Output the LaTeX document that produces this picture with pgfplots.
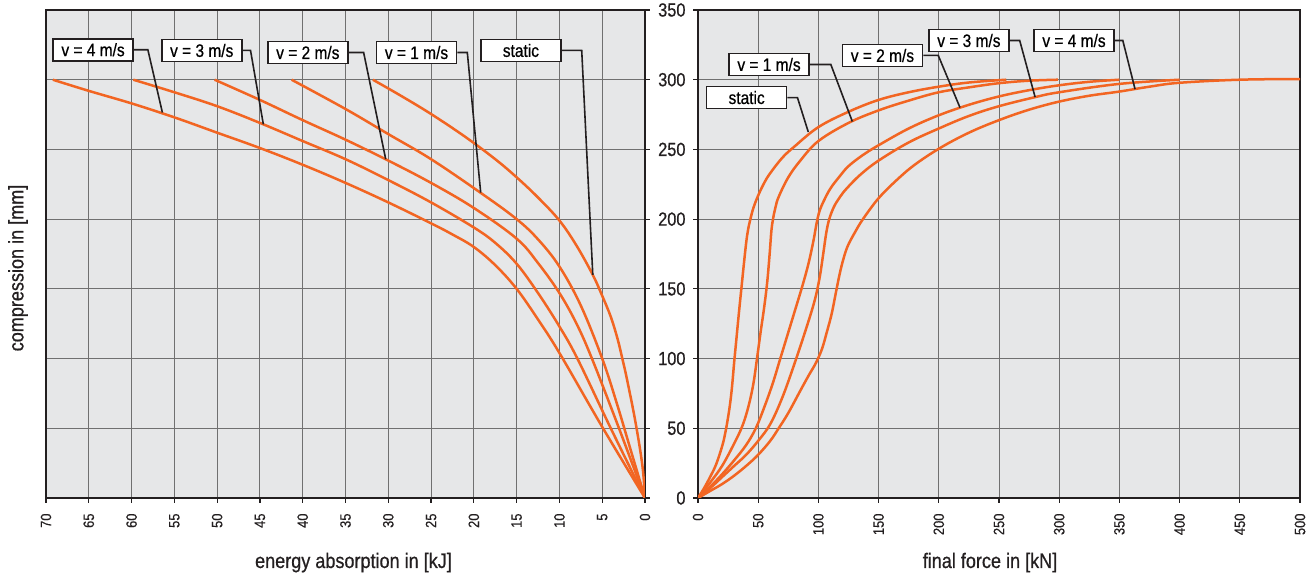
\documentclass[border=0pt]{standalone}
\usepackage{fontspec}
\setmainfont{Liberation Sans}[FakeStretch=0.86, FakeBold=0.6]
\newfontfamily\lightfont{Liberation Sans}[FakeStretch=0.86, FakeBold=0.2]
\usepackage{pgfplots}
\pgfplotsset{compat=1.18}
\definecolor{bg}{RGB}{230,231,232}
\definecolor{gridc}{RGB}{112,112,112}
\definecolor{curve}{RGB}{242,101,34}
\definecolor{frame}{RGB}{35,31,32}
\tikzset{
  box/.style={draw=frame, line width=1.6pt, fill=white, minimum width=80pt, minimum height=22pt, inner sep=0pt, font=\fontsize{18}{18}\selectfont},
  ptr/.style={draw=frame, line width=1.6pt},
  mycurve/.style={draw=curve, line width=2.5pt, smooth, tension=0.6, mark=none},
}
\pgfplotsset{
  common/.style={
    scale only axis, height=488pt,
    axis background/.style={fill=bg},
    grid=major, major grid style={gridc, line width=0.9pt},
    axis line style={frame, line width=2.6pt},
    ymin=0, ymax=350, ytick={0,50,...,350},
    tick align=outside, major tick length=5pt,
    tick style={frame, line width=1.2pt},
    xtick pos=left,
    /pgf/number format/assume math mode=true,
    xticklabel style={rotate=90, anchor=east, font=\lightfont\fontsize{15}{15}\selectfont, text=frame},
    xticklabel shift=7pt,
    yticklabel style={font=\fontsize{19}{19}\selectfont, text=frame},
  },
}
\begin{document}
\begin{tikzpicture}[x=1pt,y=1pt]
\useasboundingbox (0,0) rectangle (1315,577);
% ---------------- left axis: energy absorption ----------------
\begin{axis}[common, at={(46pt,79pt)}, anchor=south west, width=599pt,
  x dir=reverse, xmin=0, xmax=70, xtick={0,5,...,70},
  ytick pos=right, yticklabels={}]
% static
\addplot[mycurve] coordinates {(0,0)(0.3,23)(1.1,54)(2.1,85)(2.65,100)(3.2,114)(4,130)(5,145)(6.1,160)(8,181)(10,199)(12.5,215.5)(15,230)(17.5,243)(21,259)(25,275.4)(28.5,288.4)(31.8,300)};
% v = 1
\addplot[mycurve] coordinates {(0,0)(1.7,35)(3.3,68)(5,100)(7.5,138)(10,166)(12.5,185.5)(15,200)(19,218)(25,243)(30,261)(35,279)(41.3,300)};
% v = 2
\addplot[mycurve] coordinates {(0,0)(3.1,51)(6.2,100)(8,125)(10,147)(12.5,168.5)(15,186)(20,208)(25,226)(30,242)(35,257)(40,271)(45,285.5)(50.3,300)};
% v = 3
\addplot[mycurve] coordinates {(0,0)(4,50)(7.9,100)(10,123)(12.5,147)(15,168)(17.5,183)(20,194)(25,212)(30,228)(35,243)(40,256)(45,269)(50,281)(55,291)(59.8,300)};
% v = 4
\addplot[mycurve] coordinates {(0,0)(5,51)(10,104)(12.5,128)(15,150)(17.5,167)(20,180)(22.5,189)(25,197)(30,212)(35,226)(40,239)(45,251)(50,262)(55,273)(60,283)(65,292)(69.2,300)};
% labels
\node[box] (a4) at (axis cs:64.5,321.5) {v = 4 m/s};
\draw[ptr] (a4.east) -- ++(14pt,0pt) -- (axis cs:56.4,276.5);
\node[box] (a3) at (axis cs:51.8,321) {v = 3 m/s};
\draw[ptr] (a3.east) -- ++(8pt,0pt) -- (axis cs:44.6,268);
\node[box] (a2) at (axis cs:39.4,319.5) {v = 2 m/s};
\draw[ptr] (a2.east) -- ++(15pt,0pt) -- (axis cs:30.3,243);
\node[box] (a1) at (axis cs:26.7,319.5) {v = 1 m/s};
\draw[ptr] (a1.east) -- ++(10pt,0pt) -- (axis cs:19.2,219);
\node[box] (a0) at (axis cs:14.5,321) {static};
\draw[ptr] (a0.east) -- ++(20pt,0pt) -- (axis cs:6.1,160);
\end{axis}
% ---------------- right axis: final force ----------------
\begin{axis}[common, at={(698pt,79pt)}, anchor=south west, width=602pt,
  xmin=0, xmax=500, xtick={0,50,...,500},
  ytick pos=left, yticklabel shift=4pt]
% static
\addplot[mycurve] coordinates {(0,0)(5,7)(10,15)(15,24)(20,37)(22.5,46)(25,58)(27,70)(28.5,82)(30,97)(32,115)(34,133)(36,150)(38,167)(40,183)(41.5,192)(43.5,200)(46,208)(50,217)(55,226)(60,233)(70,244)(80,252)(100,266)(125,277)(150,285.5)(175,291)(200,295)(225,298)(256,300)};
% v = 1
\addplot[mycurve] coordinates {(0,0)(10,11)(20,23)(30,39)(37,52)(42,66)(46,82)(49,100)(52,119)(55,137)(57.5,155)(59.5,175)(61,192)(62.5,201)(64.5,209)(67,216)(75,230)(85,242)(100,256)(125,269)(150,278)(175,285)(200,291)(225,294.5)(250,297.5)(275,299.3)(299,300)};
% v = 2
\addplot[mycurve] coordinates {(0,0)(10,8)(20,17)(30,27)(40,38)(48,50)(55,65)(62,82)(68,99)(74,116)(80,133)(87,153)(92,169)(96,185)(98.5,197)(101,206)(105,214)(110,222)(117,230)(125,238)(137,246)(150,253)(175,265)(200,274.5)(225,282)(250,288)(275,292.5)(300,296)(325,298.5)(350,300)};
% v = 3
\addplot[mycurve] coordinates {(0,0)(10,7)(20,15)(30,23)(40,31)(50,41)(60,53)(70,72)(80,96)(90,122)(97,142)(101,158)(104,175)(106.5,190)(109,200)(113,209)(118,216)(123.5,222)(135,232)(150,242)(175,255)(200,265)(225,274)(250,281)(280,287.5)(300,291)(350,297)(400,300)};
% v = 4
\addplot[mycurve] coordinates {(0,0)(10,5)(20,10)(30,16)(40,23)(50,31)(60,41)(67,50)(75,61)(85,77)(92,88)(98,97)(103,107)(107,119)(111,132)(114,145)(117,158)(120,169)(124,180)(130,190)(137,200)(150,215)(165,228)(180,239)(201,251)(225,262)(250,271)(275,278.5)(300,284.3)(325,288.5)(350,291.5)(375,295)(400,297.8)(450,300)(500,300.5)};
% labels
\node[box] (b0) at (axis cs:40.4,287.2) {static};
\draw[ptr] (b0.east) -- ++(10pt,0pt) -- (axis cs:91.6,262.5);
\node[box] (b1) at (axis cs:59,310.9) {v = 1 m/s};
\draw[ptr] (b1.east) -- ++(21pt,0pt) -- (axis cs:128.2,270);
\node[box] (b2) at (axis cs:153.2,317.4) {v = 2 m/s};
\draw[ptr] (b2.east) -- ++(15pt,0pt) -- (axis cs:217.6,280);
\node[box] (b3) at (axis cs:225,328.1) {v = 3 m/s};
\draw[ptr] (b3.east) -- ++(10pt,0pt) -- (axis cs:280,287.5);
\node[box] (b4) at (axis cs:312.3,328.1) {v = 4 m/s};
\draw[ptr] (b4.east) -- ++(8pt,0pt) -- (axis cs:363,293.2);
\end{axis}
% axis titles
\node[rotate=90, font=\fontsize{21}{21}\selectfont, text=frame] at (18pt,309pt) {compression in [mm]};
\node[anchor=base, font=\fontsize{21}{21}\selectfont, text=frame] at (353.5pt,9pt) {energy absorption in [kJ]};
\node[anchor=base, font=\fontsize{21}{21}\selectfont, text=frame] at (990pt,9pt) {final force in [kN]};
\end{tikzpicture}
\end{document}
